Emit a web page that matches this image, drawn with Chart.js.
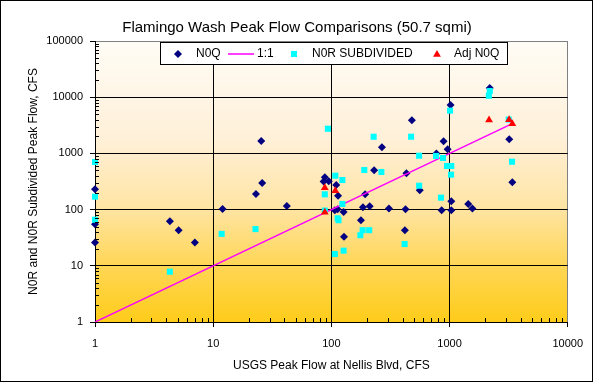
<!DOCTYPE html>
<html><head><meta charset="utf-8">
<script src="https://cdn.jsdelivr.net/npm/chart.js@4"></script>
<style>html,body{margin:0;padding:0;background:#fff}canvas{display:block}</style>
</head><body>
<canvas id="c" width="593" height="382"></canvas>
<script>
const titleText = 'Flamingo Wash Peak Flow Comparisons (50.7 sqmi)';
const xAxisTitle = 'USGS Peak Flow at Nellis Blvd, CFS';
const yAxisTitle = 'N0R and N0R Subdivided Peak Flow, CFS';
const xTickValues = [1, 10, 100, 1000, 10000];
const yTickValues = [1, 10, 100, 1000, 10000, 100000];
const seriesNames = ['N0Q', '1:1', 'N0R SUBDIVIDED', 'Adj N0Q'];

const n0qX = [1, 1, 1, 4.3, 5.1, 7.0, 12, 23, 25.5, 26, 42, 88, 86, 95, 110, 114, 107, 113, 127, 128, 178, 185, 211, 193, 230, 268, 307, 424, 419, 432, 480, 560, 774, 890, 964, 857, 1035, 1035, 1020, 1440, 1560, 2190, 3200, 3400];
const n0qY = [230, 55, 26, 62, 43, 26, 102, 190, 1660, 297, 116, 376, 315, 320, 274, 177, 97, 101, 91, 33, 64.6, 110, 115, 187, 500, 1280, 105, 101, 43, 443, 3880, 220, 1000, 1640, 1180, 97, 97, 141, 7260, 126, 105, 14600, 1780, 306];

const lineX = [1, 3500];
const lineY = [1, 3500];

const n0rX = [1, 1, 1, 4.3, 11.8, 22.8, 93.5, 88, 88, 108, 124, 124, 113, 115, 107, 127, 190, 265, 228, 184, 209, 176, 417, 473, 553, 553, 769, 881, 846, 952, 1035, 1030, 1010, 2150, 2190, 3170, 3380];
const n0rY = [703, 170, 66, 7.85, 37, 45, 2750, 187, 96, 401, 336, 126, 70, 64.6, 16.2, 18.6, 507, 467, 1980, 43, 43, 35, 24.4, 1980, 910, 266, 900, 829, 163, 597, 597, 418, 5760, 10600, 12900, 4000, 711];

const adjX = [88, 108, 88, 2160, 3190, 3400];
const adjY = [245, 217, 90, 3930, 3980, 3380];

const zip = (xs, ys) => xs.map((x, i) => ({x: x, y: ys[i]}));
const FONT = 'Liberation Sans, Arial, sans-serif';

const bgPlugin = {
  id: 'bg',
  beforeDraw(chart) {
    const {ctx, chartArea: a} = chart;
    ctx.save();
    ctx.fillStyle = '#fff';
    ctx.fillRect(0, 0, chart.width, chart.height);
    const g = ctx.createLinearGradient(0, a.top, 0, a.bottom);
    g.addColorStop(0, '#fffcf6');
    g.addColorStop(0.35, '#fff0d8');
    g.addColorStop(0.6, '#ffe4a2');
    g.addColorStop(0.8, '#ffd655');
    g.addColorStop(1, '#ffcc1a');
    ctx.fillStyle = g;
    ctx.fillRect(a.left, a.top, a.right - a.left, a.bottom - a.top);
    // chart title
    ctx.fillStyle = '#000';
    ctx.font = '15px ' + FONT;
    ctx.textAlign = 'center';
    ctx.textBaseline = 'middle';
    ctx.fillText(titleText, 297, 28);
    ctx.restore();
  }
};

function drawMarker(ctx, style, x, y, color, r) {
  ctx.fillStyle = color;
  ctx.beginPath();
  if (style === 'rectRot') {
    ctx.moveTo(x, y - r); ctx.lineTo(x + r, y); ctx.lineTo(x, y + r); ctx.lineTo(x - r, y);
  } else if (style === 'rect') {
    const s = r * Math.SQRT1_2;
    ctx.rect(x - s, y - s, 2 * s, 2 * s);
  } else {
    ctx.moveTo(x, y - r); ctx.lineTo(x + r * 0.866, y + r / 2); ctx.lineTo(x - r * 0.866, y + r / 2);
  }
  ctx.closePath();
  ctx.fill();
}

const overlayPlugin = {
  id: 'overlay',
  afterDraw(chart) {
    const ctx = chart.ctx;
    const xs = chart.scales.x, ys = chart.scales.y;
    const a = chart.chartArea;
    ctx.save();
    // minor ticks
    ctx.strokeStyle = '#000';
    ctx.lineWidth = 1;
    ctx.beginPath();
    for (let d = 1; d < 10000; d *= 10) {
      for (let k = 2; k <= 9; k++) {
        const px = Math.round(xs.getPixelForValue(k * d)) + 0.5;
        ctx.moveTo(px, a.bottom); ctx.lineTo(px, a.bottom - 4);
      }
    }
    for (let d = 1; d < 100000; d *= 10) {
      for (let k = 2; k <= 9; k++) {
        const py = Math.round(ys.getPixelForValue(k * d)) + 0.5;
        ctx.moveTo(a.left, py); ctx.lineTo(a.left + 4, py);
      }
    }
    ctx.stroke();
    // legend
    ctx.fillStyle = '#fff';
    ctx.fillRect(160, 42, 348, 23);
    ctx.strokeStyle = '#000';
    ctx.strokeRect(160.5, 42.5, 347, 22);
    const cy = 54;
    const ds = chart.data.datasets;
    drawMarker(ctx, 'rectRot', 178, cy, ds[0].backgroundColor, 4);
    ctx.strokeStyle = ds[1].borderColor;
    ctx.lineWidth = 1.5;
    ctx.beginPath(); ctx.moveTo(228, cy); ctx.lineTo(254, cy); ctx.stroke();
    drawMarker(ctx, 'rect', 294, cy, ds[2].backgroundColor, 4.3);
    drawMarker(ctx, 'triangle', 437, cy + 0.5, ds[3].backgroundColor, 4.5);
    ctx.fillStyle = '#000';
    ctx.font = '12px ' + FONT;
    ctx.textBaseline = 'middle';
    ctx.textAlign = 'left';
    ctx.fillText(seriesNames[0], 196, cy);
    ctx.fillText(seriesNames[1], 257, cy);
    ctx.fillText(seriesNames[2], 312, cy);
    ctx.fillText(seriesNames[3], 454, cy);
    // outer border
    ctx.strokeStyle = '#000';
    ctx.lineWidth = 1;
    ctx.strokeRect(0.5, 0.5, chart.width - 1, chart.height - 1);
    ctx.restore();
  }
};

new Chart(document.getElementById('c'), {
  type: 'scatter',
  data: {
    datasets: [
      {label: seriesNames[0], data: zip(n0qX, n0qY), pointStyle: 'rectRot', pointRadius: 4, pointHoverRadius: 4,
       backgroundColor: '#000080', borderColor: '#000080', borderWidth: 0, order: 4, clip: false},
      {label: seriesNames[1], data: zip(lineX, lineY), showLine: true, pointRadius: 0, borderColor: '#ff00ff',
       backgroundColor: '#ff00ff', borderWidth: 1.5, fill: false, order: 3},
      {label: seriesNames[2], data: zip(n0rX, n0rY), pointStyle: 'rect', pointRadius: 4.3, pointHoverRadius: 4.3,
       backgroundColor: '#00ffff', borderColor: '#00ffff', borderWidth: 0, order: 2, clip: false},
      {label: seriesNames[3], data: zip(adjX, adjY), pointStyle: 'triangle', pointRadius: 4.5, pointHoverRadius: 4.5,
       backgroundColor: '#ff0000', borderColor: '#ff0000', borderWidth: 0, order: 1, clip: false}
    ]
  },
  options: {
    responsive: false,
    devicePixelRatio: 1,
    animation: false,
    layout: {padding: {left: 0, right: 23, top: 41, bottom: 0}},
    plugins: {
      legend: {display: false},
      tooltip: {enabled: false},
      title: {display: false}
    },
    scales: {
      x: {
        type: 'logarithmic', min: 1, max: 10000,
        afterBuildTicks: s => { s.ticks = xTickValues.map(v => ({value: v})); },
        afterFit: s => { s.height = 60; },
        ticks: {callback: v => String(v), color: '#000', font: {family: FONT, size: 11}, padding: 10, maxRotation: 0, autoSkip: false},
        grid: {color: c => (c.tick && c.tick.value === 10000) ? '#808080' : '#000', lineWidth: 1, tickLength: 5, tickColor: '#000'},
        border: {color: '#000', width: 1},
        title: {display: true, text: xAxisTitle, color: '#000', font: {family: FONT, size: 12}, padding: {top: 0, bottom: 9}}
      },
      y: {
        type: 'logarithmic', min: 1, max: 100000,
        afterBuildTicks: s => { s.ticks = yTickValues.map(v => ({value: v})); },
        afterFit: s => { s.width = 95; },
        ticks: {callback: v => String(v), color: '#000', font: {family: FONT, size: 11}, padding: 7, autoSkip: false},
        grid: {color: c => (c.tick && c.tick.value === 100000) ? '#808080' : '#000', lineWidth: 1, tickLength: 5, tickColor: '#000'},
        border: {color: '#000', width: 1},
        title: {display: true, text: yAxisTitle, color: '#000', font: {family: FONT, size: 12}, padding: {top: 26, bottom: 0}}
      }
    }
  },
  plugins: [bgPlugin, overlayPlugin]
});
</script>
</body></html>
